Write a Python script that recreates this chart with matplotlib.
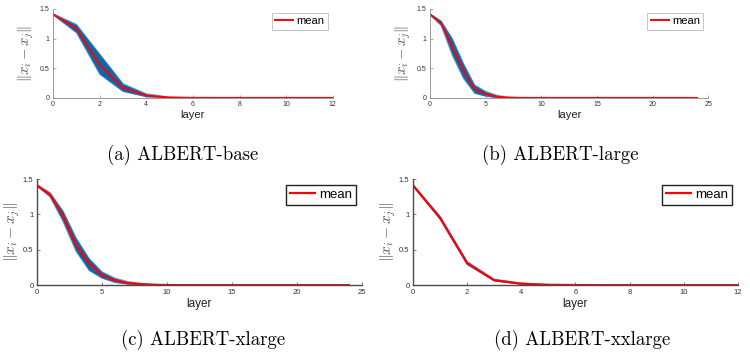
import matplotlib
matplotlib.use("Agg")
import matplotlib.pyplot as plt
import numpy as np

plt.rcParams['font.family'] = ['Liberation Sans', 'DejaVu Sans']
plt.rcParams['mathtext.fontset'] = 'cm'

# layer index per model
layers_12 = list(range(13))
layers_24 = list(range(25))

# ALBERT-base
a_mean = [1.41, 1.17, 0.56, 0.17, 0.04, 0.006, 0.001, 0, 0, 0, 0, 0, 0]
a_low = [1.40, 1.10, 0.40, 0.11, 0.02, 0.002, 0, 0, 0, 0, 0, 0, 0]
a_high = [1.42, 1.24, 0.74, 0.24, 0.07, 0.014, 0.003, 0, 0, 0, 0, 0, 0]

# ALBERT-large
b_mean = [1.41, 1.26, 0.86, 0.47, 0.15, 0.065, 0.02, 0.005, 0.001] + [0] * 16
b_low = [1.40, 1.22, 0.72, 0.33, 0.08, 0.03, 0.005, 0.001, 0] + [0] * 16
b_high = [1.42, 1.30, 1.00, 0.58, 0.22, 0.11, 0.045, 0.014, 0.004] + [0] * 16

# ALBERT-xlarge
c_mean = [1.41, 1.28, 0.98, 0.57, 0.31, 0.14, 0.07, 0.03, 0.015, 0.005, 0.002] + [0] * 14
c_low = [1.40, 1.25, 0.90, 0.48, 0.21, 0.10, 0.04, 0.015, 0.005, 0.002, 0] + [0] * 14
c_high = [1.42, 1.31, 1.05, 0.67, 0.38, 0.19, 0.10, 0.05, 0.025, 0.01, 0.004] + [0] * 14

# ALBERT-xxlarge
d_mean = [1.41, 0.95, 0.31, 0.07, 0.02, 0.005, 0.002, 0, 0, 0, 0, 0, 0]
d_low = [1.40, 0.93, 0.29, 0.06, 0.014, 0.003, 0, 0, 0, 0, 0, 0, 0]
d_high = [1.42, 0.975, 0.335, 0.085, 0.03, 0.009, 0.003, 0, 0, 0, 0, 0, 0]

captions = ['(a) ALBERT-base', '(b) ALBERT-large', '(c) ALBERT-xlarge', '(d) ALBERT-xxlarge']

fig = plt.figure(figsize=(7.5, 3.56), dpi=100)

panels = [
    # x, mean, low, high, xmax, xticks, rect, caption pos, bigger panel
    (layers_12, a_mean, a_low, a_high, 12, [0, 2, 4, 6, 8, 10, 12],
     [0.0707, 0.725, 0.373, 0.250], (0.244, 0.565), 0),
    (layers_24, b_mean, b_low, b_high, 25, [0, 5, 10, 15, 20, 25],
     [0.5733, 0.725, 0.371, 0.250], (0.747, 0.565), 0),
    (layers_24, c_mean, c_low, c_high, 25, [0, 5, 10, 15, 20, 25],
     [0.0493, 0.199, 0.433, 0.298], (0.271, 0.045), 1),
    (layers_12, d_mean, d_low, d_high, 12, [0, 2, 4, 6, 8, 10, 12],
     [0.5507, 0.199, 0.433, 0.298], (0.776, 0.045), 1),
]

for i, (x, m, lo, hi, xmax, xt, rect, cap, big) in enumerate(panels):
    ax = fig.add_axes(rect)
    ax.fill_between(x, lo, hi, color='#0a68a8', lw=0)
    ax.plot(x, lo, color='#2a7fc0', lw=0.8, alpha=0.7)
    ax.plot(x, hi, color='#2a7fc0', lw=0.8, alpha=0.7)
    ax.plot(x, m, color='#ff0000', lw=1.6 if big else 1.4, label='mean')
    ax.set_xlim(0, xmax)
    ax.set_ylim(0, 1.5)
    ax.set_xticks(xt)
    ax.set_yticks([0, 0.5, 1, 1.5])
    ax.set_yticklabels(['0', '0.5', '1', '1.5'])
    for s in ['top', 'right']:
        ax.spines[s].set_visible(False)
    spc = '#4a4a4a' if big else '#8a8a8a'
    for s in ['left', 'bottom']:
        ax.spines[s].set_color(spc)
        ax.spines[s].set_linewidth(1.0 if big else 0.6)
    ax.tick_params(direction='in', length=2, width=0.5, colors=spc,
                   labelcolor='#333333', labelsize=5.5 if big else 5, pad=2.5)
    ax.set_xlabel('layer', fontsize=8.5 if big else 8, labelpad=2 if big else 1, color='#222222')
    ax.set_ylabel(r'$\|x_i - x_j\|$', fontsize=11 if big else 10.5, color='#555555',
                  labelpad=0.5 if big else 3)
    leg = ax.legend(loc='upper right', fontsize=9.5 if big else 8, handlelength=1.9 if big else 1.6,
                    handletextpad=0.3, borderpad=0.3, fancybox=False, framealpha=1,
                    bbox_to_anchor=(0.99, 0.97 if big else 0.98), borderaxespad=0.2)
    fr = leg.get_frame()
    fr.set_edgecolor('#222222' if big else '#bbbbbb')
    fr.set_linewidth(1.0 if big else 0.6)
    fig.text(cap[0], cap[1], captions[i], ha='center', va='center',
             fontsize=13.5, family='cmr10')

fig.savefig('out.png', dpi=100)
